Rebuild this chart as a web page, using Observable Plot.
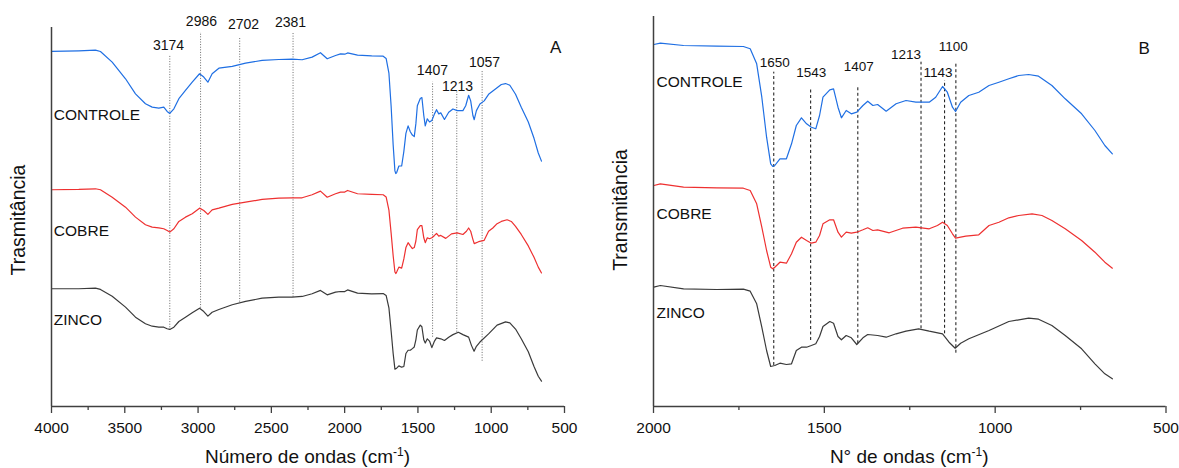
<!DOCTYPE html>
<html>
<head>
<meta charset="utf-8">
<script src="https://cdn.jsdelivr.net/npm/d3@7"></script>
<script src="https://cdn.jsdelivr.net/npm/@observablehq/plot@0.6"></script>
<style>
  html, body { margin: 0; padding: 0; background: #fff; }
  #wrap { position: relative; width: 1179px; height: 468px; overflow: hidden; background: #fff; }
  #wrap svg { position: absolute; top: 0; }
</style>
</head>
<body>
<div id="wrap"></div>
<script>
// ---- Data (wavenumber cm^-1, transmittance in arbitrary units) ----
const seriesNames = ["CONTROLE", "COBRE", "ZINCO"];
const seriesColors = ["#1f6fe3", "#ee3030", "#3a3a3a"];

const controle = [
  [4000,363.8],[3814,364.5],[3700,365.2],[3666,363.8],[3586,352.9],[3495,335.9],[3427,320.5],[3359,310.3],
  [3313,306.9],[3268,305.9],[3234,306.9],[3211,302.5],[3193,300.4],[3165,305.2],[3131,315.5],[3086,323.9],
  [3040,332.4],[2990,341],[2961,337.6],[2933,332.4],[2904,341],[2858,346.7],[2767,348.5],[2676,351.9],
  [2563,354.6],[2449,355.6],[2358,355.9],[2290,355.3],[2222,358],[2165,362.5],[2119,356.3],[2062,359.7],
  [2028,361.4],
  [1999,361],[1980,362.3],[1912,360],[1815,359.3],[1737,359],[1717,356.7],[1698,341.7],[1683,308.3],
  [1669,268.3],[1657,241.7],[1651,239],[1645,240],[1630,246.7],[1611,246.7],[1596,261.7],[1582,280],
  [1567,287.7],[1552,281.7],[1538,278.3],[1525,276.7],[1514,290],[1504,308.3],[1484,315.7],[1473,316.7],
  [1460,298.3],[1450,287.7],[1436,295],[1421,291.7],[1405,293.3],[1387,300],[1373,304.3],[1358,300],
  [1344,301],[1319,294.3],[1290,301.7],[1261,305],[1232,303.3],[1193,303.3],[1174,308.3],[1154,319],
  [1140,313.3],[1125,298.3],[1116,294],[1101,303.3],[1077,310],[1048,313.3],[1018,320],[989,323.3],
  [960,326.7],[931,330],[902,331],[873,329.3],[834,320],[795,306.7],[747,291.7],[708,275],[679,260],[657,251.7]
];

const cobre = [
  [4000,222.4],[3814,222.7],[3700,223.4],[3666,222.4],[3586,214.8],[3495,204.6],[3427,194.4],[3359,186.6],
  [3313,184.2],[3268,183.5],[3234,182.5],[3211,180.8],[3193,179.1],[3165,182.5],[3131,190],[3086,194.4],
  [3040,197.9],[2990,203.6],[2961,201.2],[2933,197.2],[2904,201.9],[2858,203.6],[2767,207.4],[2676,209.7],
  [2563,212.5],[2449,213.8],[2358,214.2],[2290,214.2],[2222,217.3],[2165,221],[2119,214.8],[2062,218.3],
  [2028,220],
  [1999,220],[1980,221.7],[1912,218.3],[1815,217.7],[1737,217.3],[1717,215],[1698,201.7],[1683,178.3],
  [1669,155],[1657,138.3],[1651,136.7],[1645,138.3],[1630,143.3],[1611,142.3],[1596,151.7],[1582,163.3],
  [1567,168.3],[1552,165],[1538,162.3],[1525,163.3],[1514,170],[1504,181.7],[1484,185.7],[1473,185.7],
  [1460,173.3],[1450,168.3],[1436,173.3],[1421,172.3],[1405,173.3],[1387,175.7],[1373,177.7],[1358,175],
  [1344,175.7],[1310,172.7],[1271,177.3],[1232,178.3],[1193,176.7],[1169,180],[1154,183.3],[1140,180],
  [1125,171.7],[1116,167.3],[1086,169.3],[1048,170.7],[1018,180],[989,183.3],[960,187.7],[931,190],
  [892,191.7],[863,190],[834,185],[795,176.7],[747,165],[708,153.3],[679,143.3],[657,137.3]
];

const zinco = [
  [4000,121.2],[3814,121.2],[3700,121.8],[3666,120.5],[3586,113.6],[3495,102.4],[3427,92.1],[3359,85.4],
  [3313,82.9],[3268,81.9],[3234,81.9],[3211,80.3],[3193,79.6],[3165,81.9],[3131,87.7],[3086,92.1],
  [3040,96.6],[2990,101.3],[2961,97.9],[2933,93.2],[2904,97.2],[2858,100],[2767,104.8],[2676,108.2],
  [2563,111.6],[2449,112.6],[2358,112.6],[2290,113.3],[2222,116.1],[2165,119.5],[2119,115],[2062,117.7],
  [2028,118.4],
  [1999,118.3],[1980,120],[1912,116.7],[1815,116],[1737,116.3],[1717,114.3],[1698,101.7],[1683,78.3],
  [1669,55],[1657,39],[1645,40],[1630,42.3],[1611,41],[1596,41.7],[1582,55],[1567,58.3],[1552,58.3],
  [1538,60],[1525,61.7],[1514,69],[1504,79],[1484,84],[1473,82.3],[1460,69],[1450,65.7],[1436,70],
  [1421,67.7],[1405,61],[1387,67.7],[1373,71],[1344,70],[1319,68.3],[1290,71.7],[1261,74.3],[1224,76.7],
  [1193,74.3],[1154,71.7],[1135,63.3],[1117,57.3],[1101,62.3],[1077,66.7],[1018,75],[960,84],[902,87.3],
  [873,86.3],[834,80],[795,70],[747,56.7],[708,41.7],[679,31.7],[657,26.7]
];

// Peak markers, panel A (dotted): line position, top, bottom; label text and label position
const peakAPos    = [3193, 2983, 2716, 2352, 1400, 1235, 1062];
const peakATop    = [359.0, 383.2, 378.1, 382.2, 332.4, 323.9, 344.4];
const peakABottom = [78.6, 101.3, 107.5, 112.6, 71.7, 76.8, 47.1];
const peakALabels = ["3174", "2986", "2702", "2381", "1407", "1213", "1057"];
const peakALabelX = [3202, 2977, 2690, 2369, 1401, 1230, 1046];
const peakALabelY = [370, 394.5, 391.6, 393.4, 344.4, 328, 352.6];

// Peak markers, panel B (dashed)
const peakBPos    = [1648, 1540, 1402, 1217, 1148, 1115];
const peakBTop    = [333.3, 317.7, 320, 343.3, 325, 341.7];
const peakBBottom = [40, 65, 61.7, 76.7, 71.7, 52.3];
const peakBLabels = ["1650", "1543", "1407", "1213", "1143", "1100"];
const peakBLabelX = [1645, 1538, 1399, 1261, 1167, 1123];
const peakBLabelY = [342.7, 332.7, 339.3, 351, 332.7, 359];

// Series name label positions
const nameAX = 3984, nameAY = [299.3, 179.8, 88.8];
const nameBX = 1991, nameBY = [323.3, 191, 92.7];

// Axis ticks
const ticksA = [4000, 3500, 3000, 2500, 2000, 1500, 1000, 500];
const minorA = [3750, 3250, 2750, 2250, 1750, 1250, 750];
const ticksB = [2000, 1500, 1000, 500];
const minorB = [1750, 1250, 750];

const FONT = "'Liberation Sans', Arial, Helvetica, sans-serif";
const AXIS = "#404040";

const seriesData = [controle, cobre, zinco];

function panel(cfg) {
  const pA = cfg.peaks.pos.map((p, i) => ({x: p, y1: cfg.peaks.bottom[i], y2: cfg.peaks.top[i]}));
  const pL = cfg.peaks.labels.map((t, i) => ({t, x: cfg.peaks.lx[i], y: cfg.peaks.ly[i]}));
  const names = seriesNames.map((n, i) => ({n, x: cfg.nameX, y: cfg.nameY[i]}));
  const marks = [
    Plot.ruleX(pA, {x: "x", y1: "y1", y2: "y2", stroke: cfg.peakStroke, strokeWidth: 1, strokeDasharray: cfg.dash})
  ];
  seriesData.forEach((s, i) => {
    marks.push(Plot.line(s.filter(d => d[0] <= cfg.xMax), {x: d => d[0], y: d => d[1], stroke: seriesColors[i], strokeWidth: 1.2}));
  });
  marks.push(
    Plot.ruleX([cfg.xMax], {stroke: AXIS, strokeWidth: 1.5}),
    Plot.ruleY([cfg.yDomain[0]], {stroke: AXIS, strokeWidth: 1.5}),
    Plot.axisX(cfg.ticks, {tickSize: 7, tickPadding: 8.5, tickFormat: d => String(d), fontSize: 15.5, fill: "#111", stroke: AXIS, strokeWidth: 1.3, label: null}),
    Plot.axisX(cfg.minor, {tickSize: 4, tickFormat: () => "", stroke: AXIS, strokeWidth: 1.3, label: null}),
    Plot.text(pL, {x: "x", y: "y", text: "t", fontSize: cfg.peakFont, fill: "#111", textAnchor: "middle", lineAnchor: "middle"}),
    Plot.text(names, {x: "x", y: "y", text: "n", fontSize: 15.5, fill: "#111", textAnchor: "start", lineAnchor: "middle"}),
    Plot.text([cfg.letter], {x: cfg.letterX, y: cfg.letterY, text: d => d, fontSize: 17, fill: "#111", textAnchor: "middle", lineAnchor: "middle"})
  );
  const svg = Plot.plot({
    width: cfg.width, height: 468,
    marginLeft: cfg.ml, marginRight: cfg.mr, marginTop: cfg.mt, marginBottom: 62,
    x: {domain: [cfg.xMax, 500], label: null},
    y: {domain: cfg.yDomain, axis: null},
    style: {fontFamily: FONT, background: "transparent", overflow: "visible"},
    marks
  });
  svg.style.left = cfg.left + "px";
  const s = d3.select(svg);
  // x-axis title with superscript
  const cx = cfg.ml + (cfg.width - cfg.ml - cfg.mr) / 2;
  const t = s.append("text").attr("x", cx).attr("y", 463).attr("text-anchor", "middle")
    .attr("font-family", FONT).attr("font-size", 19).attr("fill", "#111");
  t.append("tspan").text(cfg.xTitle + " (cm");
  t.append("tspan").attr("dy", -7).attr("font-size", 12).text("-1");
  t.append("tspan").attr("dy", 7).text(")");
  // y-axis title
  s.append("text").attr("transform", `translate(${cfg.yTitleX},${cfg.yTitleY}) rotate(-90)`)
    .attr("text-anchor", "middle").attr("dominant-baseline", "middle")
    .attr("font-family", FONT).attr("font-size", 19.5).attr("fill", "#111").text(cfg.yTitle);
  document.getElementById("wrap").appendChild(svg);
}

panel({
  left: 0, width: 590, ml: 51, mr: 26, mt: 27, xMax: 4000, yDomain: [0.8, 388.3],
  ticks: ticksA, minor: minorA,
  peaks: {pos: peakAPos, top: peakATop, bottom: peakABottom, labels: peakALabels, lx: peakALabelX, ly: peakALabelY},
  peakStroke: "#6a6a6a", dash: "1,1.6", peakFont: 14,
  nameX: nameAX, nameY: nameAY,
  letter: "A", letterX: 561, letterY: 367.9,
  xTitle: "Número de ondas", yTitle: "Trasmitância", yTitleX: 20, yTitleY: 220
});

panel({
  left: 590, width: 589, ml: 63, mr: 13.5, mt: 16, xMax: 2000, yDomain: [-1, 389],
  ticks: ticksB, minor: minorB,
  peaks: {pos: peakBPos, top: peakBTop, bottom: peakBBottom, labels: peakBLabels, lx: peakBLabelX, ly: peakBLabelY},
  peakStroke: "#111", dash: "3,2.5", peakFont: 13.5,
  nameX: nameBX, nameY: nameBY,
  letter: "B", letterX: 564, letterY: 357,
  xTitle: "N° de ondas", yTitle: "Transmitância", yTitleX: 31.7, yTitleY: 210
});
</script>
</body>
</html>
